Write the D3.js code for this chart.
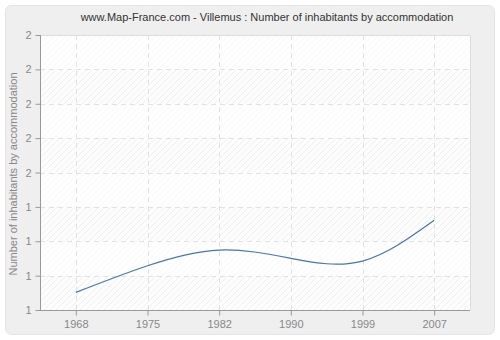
<!DOCTYPE html>
<html>
<head>
<meta charset="utf-8">
<script src="https://cdn.jsdelivr.net/npm/d3@7"></script>
<style>
body { margin: 0; background: #fff; }
text { font-family: "Liberation Sans", Arial, sans-serif; }
</style>
</head>
<body>
<script>
var years = ["1968", "1975", "1982", "1990", "1999", "2007"];
var values = [1.064, 1.161, 1.218, 1.188, 1.178, 1.326];
var yTicks = [1, 1.125, 1.25, 1.375, 1.5, 1.625, 1.75, 1.875, 2];

var w = 500, h = 340;
var padLeft = 40, padRight = 470, padTop = 35, padBottom = 310;

var svg = d3.select("body").append("svg")
    .attr("width", w)
    .attr("height", h);

var defs = svg.append("defs");
var pat = defs.append("pattern")
    .attr("id", "hatch")
    .attr("patternUnits", "userSpaceOnUse")
    .attr("width", 6).attr("height", 6);
pat.append("rect").attr("width", 6).attr("height", 6).attr("fill", "#fdfdfd");
pat.append("path")
    .attr("d", "M-1,7 L7,-1 M-1,1 L1,-1 M5,7 L7,5")
    .attr("stroke", "#efefef").attr("stroke-width", 1);

// outer frame
svg.append("rect")
    .attr("x", 5.5).attr("y", 5.5)
    .attr("width", 489).attr("height", 329)
    .attr("rx", 6)
    .attr("fill", "#efefef")
    .attr("stroke", "#e4e4e4");

var xScale = d3.scalePoint()
    .domain(years)
    .range([padLeft, padRight])
    .padding(0.5);

var yScale = d3.scaleLinear()
    .domain([1, 2])
    .range([padBottom, padTop]);

// plot background
svg.append("rect")
    .attr("x", padLeft).attr("y", padTop)
    .attr("width", padRight - padLeft).attr("height", padBottom - padTop)
    .attr("fill", "url(#hatch)");

// alternating bands
svg.selectAll(".band")
    .data(yTicks.slice(0, -1).filter(function (d, i) { return i % 2 == 1; }))
    .enter().append("rect")
    .attr("class", "band")
    .attr("x", padLeft)
    .attr("width", padRight - padLeft)
    .attr("y", function (d) { return yScale(d + 0.125); })
    .attr("height", function (d) { return yScale(d) - yScale(d + 0.125); })
    .attr("fill", "#ffffff")
    .attr("opacity", 0.55);

// grid
svg.selectAll(".hgrid")
    .data(yTicks.slice(1, -1))
    .enter().append("line")
    .attr("class", "hgrid")
    .attr("x1", padLeft).attr("x2", padRight)
    .attr("y1", function (d) { return Math.round(yScale(d)) + 0.5; })
    .attr("y2", function (d) { return Math.round(yScale(d)) + 0.5; })
    .attr("stroke", "#e2e2e2")
    .attr("stroke-dasharray", "5,4");

svg.selectAll(".vgrid")
    .data(years)
    .enter().append("line")
    .attr("class", "vgrid")
    .attr("y1", padTop).attr("y2", padBottom)
    .attr("x1", function (d) { return Math.round(xScale(d)) + 0.5; })
    .attr("x2", function (d) { return Math.round(xScale(d)) + 0.5; })
    .attr("stroke", "#e2e2e2")
    .attr("stroke-dasharray", "5,4");

// top & right border
svg.append("path")
    .attr("d", "M" + padLeft + "," + (padTop + 0.5) + "H" + (padRight + 0.5) + "V" + padBottom)
    .attr("fill", "none")
    .attr("stroke", "#dddddd");

// line
var line = d3.line()
    .x(function (d, i) { return xScale(years[i]); })
    .y(function (d) { return yScale(d); })
    .curve(d3.curveNatural);

svg.append("path")
    .datum(values)
    .attr("d", line)
    .attr("fill", "none")
    .attr("stroke", "#4a76a8")
    .attr("stroke-width", 1.2);

// axes
var yAxis = d3.axisLeft(yScale)
    .tickValues(yTicks)
    .tickSize(5)
    .tickPadding(4)
    .tickFormat(function (d) { return Math.round(d); });

var gy = svg.append("g")
    .attr("class", "axisy")
    .attr("transform", "translate(" + (padLeft + 0.5) + ",0)")
    .call(yAxis);

var xAxis = d3.axisBottom(xScale)
    .tickSize(5)
    .tickPadding(5);

var gx = svg.append("g")
    .attr("class", "axis")
    .attr("transform", "translate(0," + (padBottom + 0.5) + ")")
    .call(xAxis);

gy.select(".domain").attr("d", "M0," + padTop + "V" + padBottom).attr("stroke", "#999");
gx.select(".domain").attr("d", "M" + padLeft + ",0H" + padRight).attr("stroke", "#999");
svg.selectAll(".tick line").attr("stroke", "#999");
svg.selectAll(".tick text")
    .attr("fill", "#888")
    .attr("font-size", 11)
    .style("font-family", "Liberation Sans, Arial, sans-serif");

// title
svg.append("text")
    .attr("x", 267).attr("y", 21)
    .attr("text-anchor", "middle")
    .attr("font-size", 11)
    .attr("fill", "#333")
    .text("www.Map-France.com - Villemus : Number of inhabitants by accommodation");

// y label
svg.append("text")
    .attr("transform", "translate(17," + 174 + ") rotate(-90)")
    .attr("text-anchor", "middle")
    .attr("font-size", 11)
    .attr("fill", "#888")
    .text("Number of inhabitants by accommodation");
</script>
</body>
</html>
